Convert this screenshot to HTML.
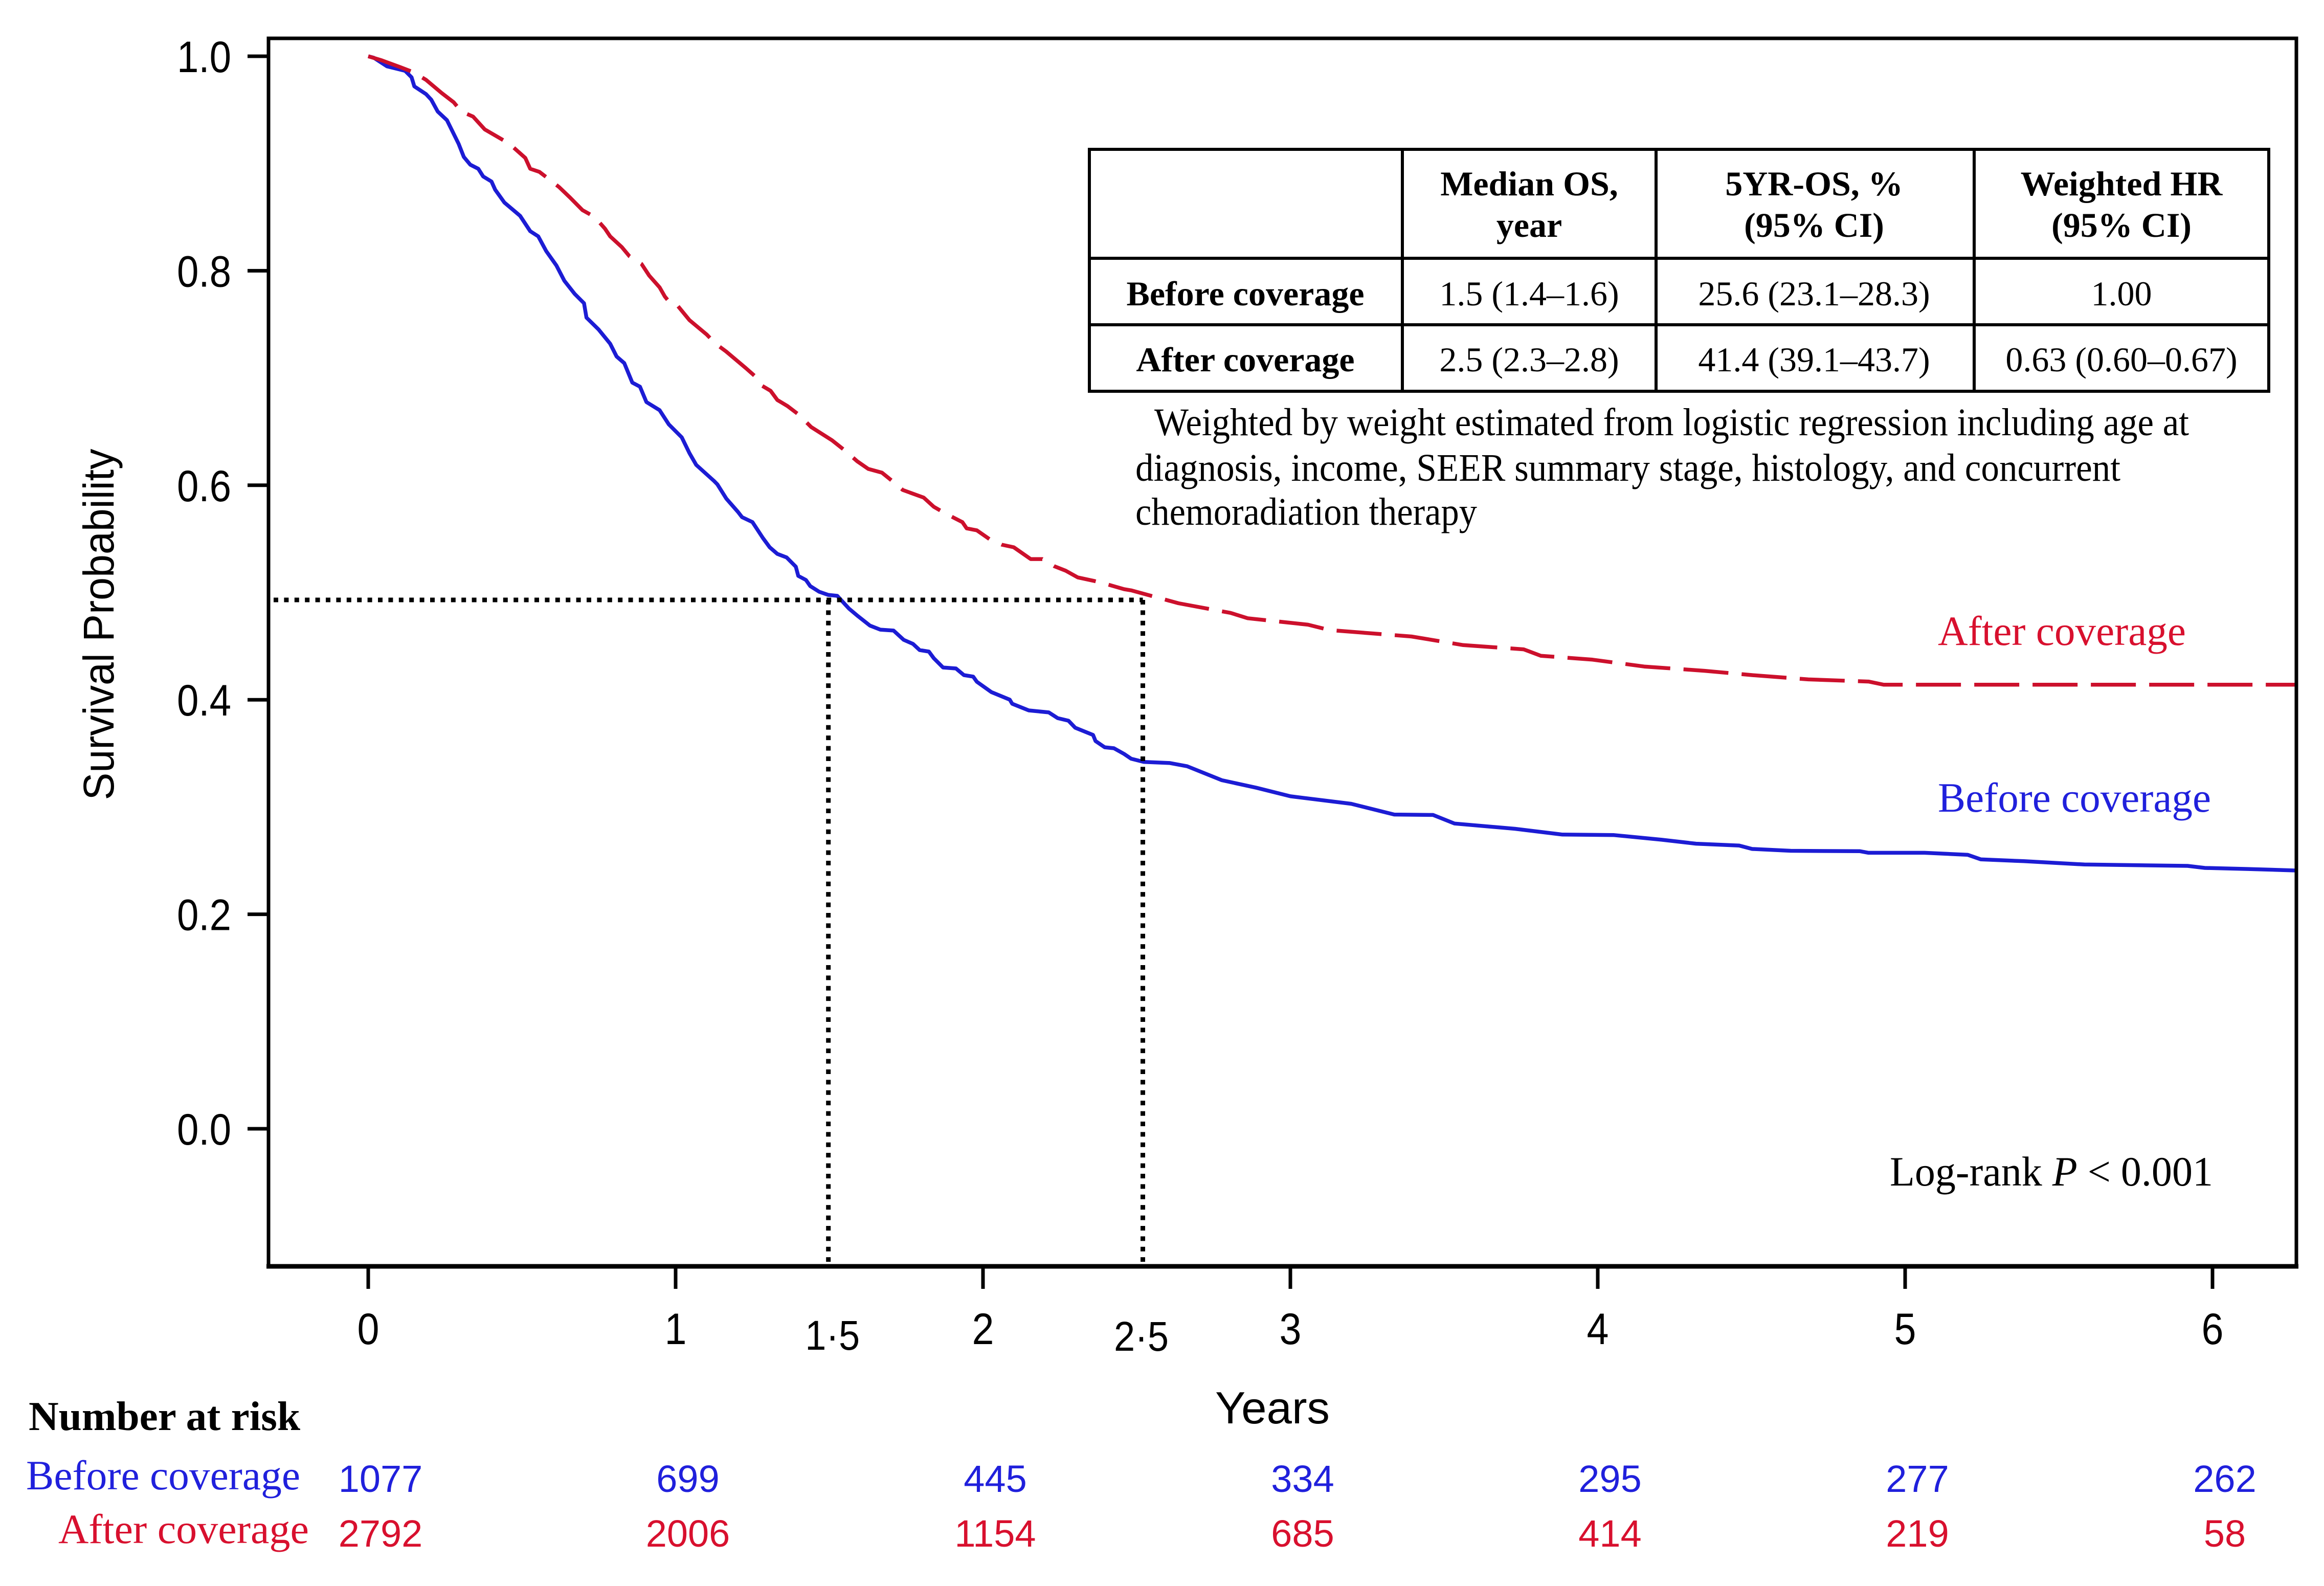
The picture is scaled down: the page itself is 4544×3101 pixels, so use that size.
<!DOCTYPE html>
<html lang="en">
<head>
<meta charset="utf-8">
<title>Survival by coverage</title>
<style>
html,body{margin:0;padding:0;background:#fff;}
svg{display:block;}
.sans{font-family:"Liberation Sans",Arial,sans-serif;}
.serif{font-family:"Liberation Serif","Times New Roman",serif;}
</style>
</head>
<body>
<svg id="chart" xmlns="http://www.w3.org/2000/svg" width="4544" height="3101" viewBox="0 0 4544 3101">
  <rect x="0" y="0" width="4544" height="3101" fill="#ffffff"/>
  <g id="curves"></g>
  <g id="guides"></g>
  <g id="axes"></g>

  <rect x="525" y="75" width="3965" height="2401" fill="none" stroke="#000" stroke-width="7"/>
  <line x1="521" y1="2476" x2="4494" y2="2476" stroke="#000" stroke-width="9"/>

  <text class="sans" font-size="84" text-anchor="middle" transform="translate(222,1221) rotate(-90)" fill="#000" textLength="687" lengthAdjust="spacingAndGlyphs">Survival Probability</text>
  <text class="sans" font-size="88" x="2376" y="2783" fill="#000" textLength="224" lengthAdjust="spacingAndGlyphs">Years</text>

  <g class="serif" fill="#000" font-size="68" text-anchor="middle">
    <rect x="2130" y="292" width="2306" height="473" fill="none" stroke="#000" stroke-width="6"/>
    <line x1="2130" y1="505" x2="4436" y2="505" stroke="#000" stroke-width="6"/>
    <line x1="2130" y1="635" x2="4436" y2="635" stroke="#000" stroke-width="6"/>
    <line x1="2742" y1="292" x2="2742" y2="765" stroke="#000" stroke-width="6"/>
    <line x1="3238" y1="292" x2="3238" y2="765" stroke="#000" stroke-width="6"/>
    <line x1="3860" y1="292" x2="3860" y2="765" stroke="#000" stroke-width="6"/>
    <text font-weight="bold" x="2990" y="382">Median OS,</text>
    <text font-weight="bold" x="2990" y="463">year</text>
    <text font-weight="bold" x="3547" y="382">5YR-OS, %</text>
    <text font-weight="bold" x="3547" y="463">(95% CI)</text>
    <text font-weight="bold" x="4148" y="382">Weighted HR</text>
    <text font-weight="bold" x="4148" y="463">(95% CI)</text>
    <text font-weight="bold" x="2435" y="597">Before coverage</text>
    <text x="2990" y="597">1.5 (1.4–1.6)</text>
    <text x="3547" y="597">25.6 (23.1–28.3)</text>
    <text x="4148" y="597">1.00</text>
    <text font-weight="bold" x="2435" y="726">After coverage</text>
    <text x="2990" y="726">2.5 (2.3–2.8)</text>
    <text x="3547" y="726">41.4 (39.1–43.7)</text>
    <text x="4148" y="726">0.63 (0.60–0.67)</text>
  </g>

  <g class="serif" fill="#000" font-size="76">
    <text x="2257" y="851" textLength="2023" lengthAdjust="spacingAndGlyphs">Weighted by weight estimated from logistic regression including age at</text>
    <text x="2220" y="940" textLength="1926" lengthAdjust="spacingAndGlyphs">diagnosis, income, SEER summary stage, histology, and concurrent</text>
    <text x="2220" y="1026" textLength="668" lengthAdjust="spacingAndGlyphs">chemoradiation therapy</text>
  </g>

  <text class="serif" font-size="82" x="3789" y="1261" fill="#d8102e" textLength="485" lengthAdjust="spacingAndGlyphs">After coverage</text>
  <text class="serif" font-size="82" x="3789" y="1587" fill="#2020dc" textLength="534" lengthAdjust="spacingAndGlyphs">Before coverage</text>
  <text class="serif" font-size="82" x="3695" y="2318" fill="#000" textLength="632" lengthAdjust="spacingAndGlyphs">Log-rank <tspan font-style="italic">P</tspan> &lt; 0.001</text>

  <text class="serif" font-weight="bold" font-size="80" x="56" y="2796" fill="#000" textLength="531" lengthAdjust="spacingAndGlyphs">Number at risk</text>
  <text class="serif" font-size="82" x="51" y="2912" fill="#2020dc" textLength="536" lengthAdjust="spacingAndGlyphs">Before coverage</text>
  <text class="serif" font-size="82" x="114" y="3017" fill="#d8102e" textLength="490" lengthAdjust="spacingAndGlyphs">After coverage</text>
  <g id="risk"></g>
</svg>
<script>
const xTicks = [0, 1, 2, 3, 4, 5, 6];
const yTicks = [0, 0.2, 0.4, 0.6, 0.8, 1];
const yTickLabels = ["0.0", "0.2", "0.4", "0.6", "0.8", "1.0"];
const medianYears = [1.497, 2.52];
const medianLabels = ["1·5", "2·5"];
const medianSurvival = 0.4931;
const riskBefore = [1077, 699, 445, 334, 295, 277, 262];
const riskAfter = [2792, 2006, 1154, 685, 414, 219, 58];
const timesBefore = [0,.018,.061,.12,.141,.15,.188,.205,.226,.256,.294,.311,.332,.358,.374,.401,.413,.443,.494,.527,.553,.579,.612,.638,.672,.702,.71,.749,.787,.808,.833,.859,.884,.905,.948,.978,1.02,1.045,1.067,1.125,1.136,1.165,1.203,1.216,1.25,1.284,1.306,1.331,1.361,1.391,1.399,1.424,1.438,1.467,1.496,1.526,1.564,1.594,1.632,1.666,1.709,1.742,1.772,1.794,1.824,1.84,1.87,1.912,1.938,1.968,1.98,2.027,2.087,2.095,2.149,2.214,2.243,2.278,2.3,2.358,2.366,2.396,2.426,2.459,2.482,2.524,2.608,2.664,2.777,2.889,3,3.198,3.338,3.464,3.534,3.731,3.885,4.053,4.208,4.32,4.46,4.502,4.628,4.853,4.881,5.063,5.204,5.246,5.386,5.583,5.919,5.975,6.116,6.27];
const survivalBefore = [1,.9986,.9906,.9864,.9804,.9719,.9647,.9595,.9485,.9404,.9184,.9061,.8989,.8951,.8879,.8832,.8756,.8636,.8512,.8369,.8321,.8183,.805,.7907,.7783,.7697,.7563,.7454,.732,.7201,.7139,.6957,.6919,.6776,.67,.6567,.6447,.63,.619,.604,.6008,.5875,.5751,.5703,.5656,.5508,.5422,.536,.5327,.5241,.5155,.5117,.506,.5007,.4978,.4969,.485,.4778,.4692,.4654,.4645,.4559,.4521,.4463,.4449,.4387,.4301,.4292,.423,.4216,.4168,.4072,.4001,.3963,.3901,.3882,.3829,.3805,.3739,.3672,.3615,.3557,.3548,.3495,.345,.342,.341,.338,.325,.318,.31,.303,.293,.2926,.2846,.2797,.2743,.2738,.2695,.2658,.2641,.2609,.2592,.2588,.2573,.2573,.2554,.2512,.2495,.2464,.2451,.2432,.2422,.2408];
const timesAfter = [0,.044,.103,.146,.188,.239,.278,.303,.341,.379,.426,.459,.511,.527,.557,.587,.621,.656,.697,.736,.77,.787,.825,.85,.889,.914,.948,.965,.987,1.007,1.045,1.101,1.13,1.164,1.229,1.263,1.28,1.309,1.331,1.364,1.399,1.441,1.509,1.547,1.591,1.627,1.671,1.704,1.739,1.807,1.84,1.878,1.933,1.947,1.98,2.023,2.061,2.1,2.155,2.193,2.231,2.269,2.308,2.363,2.396,2.459,2.482,2.636,2.805,2.861,3.057,3.127,3.394,3.562,3.759,3.815,3.983,4.151,4.348,4.502,4.685,4.881,4.931,6.27];
const survivalAfter = [1,.9962,.99,.9852,.978,.9657,.9571,.9485,.9438,.9318,.924,.9184,.9052,.8951,.8922,.8856,.878,.8684,.8565,.8503,.8393,.8321,.8221,.8135,.8064,.7955,.7845,.7759,.7683,.7673,.754,.7406,.732,.7248,.7091,.7005,.693,.6881,.6795,.6738,.6662,.6543,.6419,.6333,.6223,.6152,.6118,.6042,.5956,.5885,.5799,.5737,.5656,.5598,.558,.5494,.5446,.5422,.5312,.5312,.5246,.5203,.5141,.5107,.5083,.5031,.502,.49,.481,.476,.47,.465,.459,.451,.447,.441,.4374,.431,.427,.423,.419,.417,.414,.414];

const SVG_NS = "http://www.w3.org/2000/svg";
const SANS = '"Liberation Sans", Arial, sans-serif';
const BLUE = "#2020dc";
const RED = "#d8102e";
function xScale(t) { return 720 + 601 * t; }
function yScale(s) { return 2207 - 2097 * s; }
function make(tag, attrs, parent, text) {
  const el = document.createElementNS(SVG_NS, tag);
  for (const k in attrs) el.setAttribute(k, attrs[k]);
  if (text !== undefined) el.textContent = text;
  parent.appendChild(el);
  return el;
}
function curvePath(times, values) {
  return times.map(function (t, i) {
    return (i ? "L" : "M") + xScale(t).toFixed(1) + " " + yScale(values[i]).toFixed(1);
  }).join(" ");
}
const axes = document.getElementById("axes");
const curves = document.getElementById("curves");
const guides = document.getElementById("guides");
const risk = document.getElementById("risk");

xTicks.forEach(function (t) {
  const mark = make("line", {x1: xScale(t), x2: xScale(t), y1: 2476, y2: 2520, stroke: "#000", "stroke-width": 7}, axes);
  
  
  const label = make("text", {x: xScale(t), y: 2628, "font-size": 86, "font-family": SANS, "text-anchor": "middle", fill: "#000", textLength: 43, lengthAdjust: "spacingAndGlyphs"}, axes, String(t));
  
  
});
yTicks.forEach(function (v, i) {
  const mark = make("line", {x1: 484, x2: 525, y1: yScale(v), y2: yScale(v), stroke: "#000", "stroke-width": 7}, axes);
  
  
  const label = make("text", {x: 452, y: yScale(v) + 31, "font-size": 86, "font-family": SANS, "text-anchor": "end", fill: "#000", textLength: 106, lengthAdjust: "spacingAndGlyphs"}, axes, yTickLabels[i]);
  
  
});
medianYears.forEach(function (t, i) {
  const vertical = make("line", {x1: xScale(t), x2: xScale(t), y1: yScale(medianSurvival), y2: 2472, stroke: "#000", "stroke-width": 9, "stroke-dasharray": "9 11.4"}, guides);
  
  
  const label = make("text", {x: xScale(t) + (i === 0 ? 8 : -3), y: i === 0 ? 2639 : 2641, "font-size": 82, "font-family": SANS, "text-anchor": "middle", fill: "#000", textLength: 107, lengthAdjust: "spacingAndGlyphs"}, axes, medianLabels[i]);
  
  
});
const horizontal = make("line", {x1: 535, x2: xScale(medianYears[1]), y1: yScale(medianSurvival), y2: yScale(medianSurvival), stroke: "#000", "stroke-width": 9, "stroke-dasharray": "9 11.4"}, guides);



const lineBefore = make("path", {d: curvePath(timesBefore, survivalBefore), fill: "none", stroke: "#1c1cd4", "stroke-width": 7.5, "stroke-linejoin": "round"}, curves);


const lineAfter = make("path", {d: curvePath(timesAfter, survivalAfter), fill: "none", stroke: "#cc102c", "stroke-width": 7.5, "stroke-dasharray": "88 26", "stroke-linejoin": "round"}, curves);



xTicks.forEach(function (t, i) {
  const before = make("text", {x: xScale(t) + 24, y: 2917, "font-size": 74, "font-family": SANS, "text-anchor": "middle", fill: BLUE}, risk, String(riskBefore[i]));
  
  
  const after = make("text", {x: xScale(t) + 24, y: 3024, "font-size": 74, "font-family": SANS, "text-anchor": "middle", fill: RED}, risk, String(riskAfter[i]));
  
  
});
</script>
</body>
</html>
